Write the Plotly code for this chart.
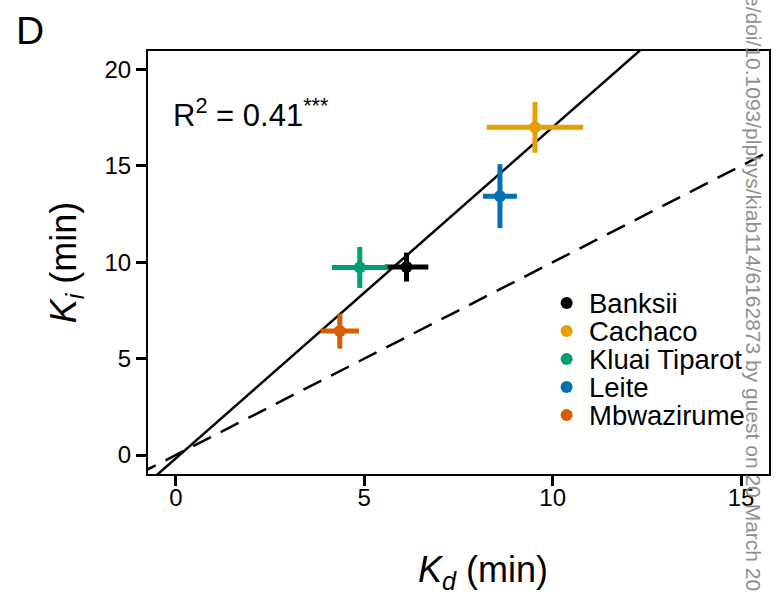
import plotly.graph_objects as go

# ---- data ----
varieties = ["Banksii", "Cachaco", "Kluai Tiparot", "Leite", "Mbwazirume"]
kd_mean = [6.12, 9.53, 4.88, 8.60, 4.35]
kd_err = [0.58, 1.28, 0.74, 0.45, 0.51]
ki_mean = [9.75, 17.0, 9.73, 13.43, 6.43]
ki_err = [0.75, 1.32, 1.06, 1.66, 0.91]
colors = ["#000000", "#E69F00", "#009E73", "#0072B2", "#D55E00"]
fit_slope = 1.718
fit_intercept = -0.17
x_ticks = [0, 5, 10, 15]
y_ticks = [0, 5, 10, 15, 20]
x_range = [-0.74, 15.74]
y_range = [-0.985, 20.96]

FONT = "Liberation Sans, Arial, sans-serif"
W, H = 783, 602
L, R, T, B = 148, 12, 51, 128


def px(xp):
    return (xp - L) / (W - L - R)


def py(yp):
    return (H - B - yp) / (H - T - B)


fig = go.Figure()

# regression line and 1:1 line
line_x = [x_range[0] - 1, x_range[1] + 1]
fig.add_trace(go.Scatter(x=line_x, y=[fit_slope * v + fit_intercept for v in line_x],
                         mode="lines", line=dict(color="black", width=2.5),
                         showlegend=False, hoverinfo="skip"))
fig.add_trace(go.Scatter(x=line_x, y=line_x, mode="lines",
                         line=dict(color="black", width=2.5, dash="20px,11px"),
                         showlegend=False, hoverinfo="skip"))

for name, x, xe, y, ye, c in zip(varieties, kd_mean, kd_err, ki_mean, ki_err, colors):
    fig.add_trace(go.Scatter(
        x=[x], y=[y], mode="markers", name=name,
        marker=dict(color=c, size=12),
        error_x=dict(type="data", array=[xe], thickness=5, width=0, color=c),
        error_y=dict(type="data", array=[ye], thickness=5, width=0, color=c),
        showlegend=False))

annotations = []
shapes = []
# manual legend
for i, (name, c) in enumerate(zip(varieties, colors)):
    row_y = 303 + 28 * i
    shapes.append(dict(type="circle", xref="paper", yref="paper",
                       xsizemode="pixel", ysizemode="pixel",
                       xanchor=px(568), yanchor=py(row_y),
                       x0=-6, x1=6, y0=-6, y1=6,
                       fillcolor=c, line=dict(width=0)))
    annotations.append(dict(text=name, xref="paper", yref="paper",
                            x=px(588), y=py(row_y), xanchor="left", yanchor="middle",
                            showarrow=False, font=dict(family=FONT, size=27.5, color="black")))

annotations += [
    dict(text="R<sup>2</sup> = 0.41<sup>***</sup>", xref="paper", yref="paper",
         x=px(171), y=py(113), xanchor="left", yanchor="middle", showarrow=False,
         font=dict(family=FONT, size=31, color="black")),
    dict(text="D", xref="paper", yref="paper", x=px(14), y=py(31),
         xanchor="left", yanchor="middle", showarrow=False,
         font=dict(family=FONT, size=39, color="black")),
    dict(text="<i>K</i><sub><i>d</i></sub> (min)", xref="paper", yref="paper",
         x=px(484), y=py(572), xanchor="center", yanchor="middle", showarrow=False,
         font=dict(family=FONT, size=36, color="black")),
    dict(text="<i>K</i><sub><i>i</i></sub> (min)", xref="paper", yref="paper",
         x=px(66), y=py(262), xanchor="center", yanchor="middle", textangle=-90,
         showarrow=False, font=dict(family=FONT, size=36, color="black")),
    dict(text="e/doi/10.1093/plphys/kiab114/6162873 by guest on 20 March 20",
         xref="paper", yref="paper", x=px(756), y=py(-7), xanchor="center",
         yanchor="top", textangle=90, showarrow=False,
         font=dict(family=FONT, size=21, color="#8f8f8f")),
]

axis_common = dict(showgrid=False, zeroline=False, showline=True, linecolor="black",
                   linewidth=2, mirror=True, ticks="outside", ticklen=10, tickwidth=2.5,
                   tickcolor="black", tickfont=dict(family=FONT, size=24, color="black"))

fig.update_layout(
    width=W, height=H, margin=dict(l=L, r=R, t=T, b=B),
    paper_bgcolor="white", plot_bgcolor="white", showlegend=False,
    xaxis=dict(range=x_range, tickvals=x_ticks, ticklabelstandoff=-9, **axis_common),
    yaxis=dict(range=y_range, tickvals=y_ticks, **axis_common),
    annotations=annotations, shapes=shapes,
)

fig.write_html("out.html")
